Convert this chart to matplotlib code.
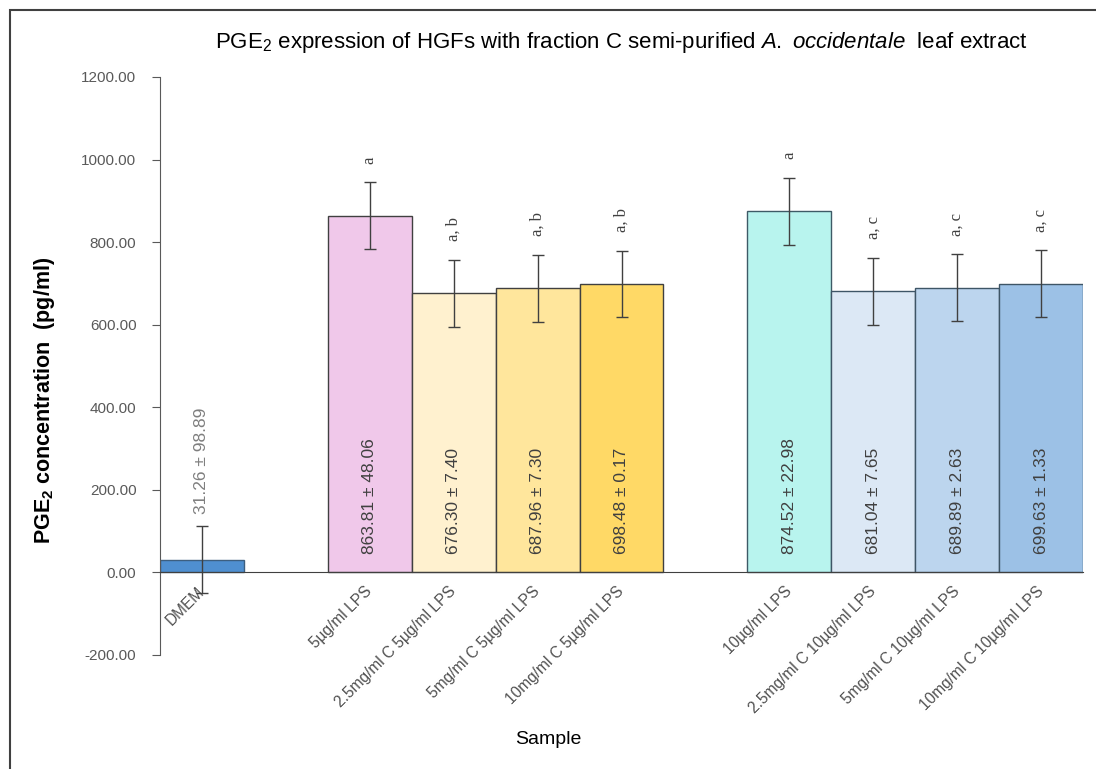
import numpy as np
import matplotlib
matplotlib.use("Agg")
import matplotlib.pyplot as plt
from matplotlib.patches import Rectangle

plt.rcParams["font.family"] = ["Liberation Sans", "DejaVu Sans"]
plt.rcParams["mathtext.fontset"] = "custom"
plt.rcParams["mathtext.rm"] = "Liberation Sans"
plt.rcParams["mathtext.it"] = "Liberation Sans:italic"
plt.rcParams["mathtext.bf"] = "Liberation Sans:bold"

# ---- data ----
samples = ["DMEM", "5µg/ml LPS", "2.5mg/ml C 5µg/ml LPS", "5mg/ml C 5µg/ml LPS",
           "10mg/ml C 5µg/ml LPS", "10µg/ml LPS", "2.5mg/ml C 10µg/ml LPS",
           "5mg/ml C 10µg/ml LPS", "10mg/ml C 10µg/ml LPS"]
slots = [0, 2, 3, 4, 5, 7, 8, 9, 10]
means = [31.26, 863.81, 676.30, 687.96, 698.48, 874.52, 681.04, 689.89, 699.63]
sds = [98.89, 48.06, 7.40, 7.30, 0.17, 22.98, 7.65, 2.63, 1.33]
err = [81, 81, 81, 81, 81, 81, 81, 81, 81]
letters = ["", "a", "a, b", "a, b", "a, b", "a", "a, c", "a, c", "a, c"]

colors = ["#4f8fd0", "#f0c8ea", "#fff1cf", "#ffe69c", "#ffd966",
          "#b8f4ee", "#dce8f5", "#bcd5ee", "#9cc1e6"]
edges = ["#3d5f80", "#404040", "#404040", "#404040", "#404040",
         "#3e5a66", "#3e5566", "#3e5566", "#3e5566"]

fig = plt.figure(figsize=(10.96, 7.69), dpi=100)
ax = fig.add_axes([160 / 1096, 1 - 655 / 769, (1083 - 160) / 1096, (655 - 77) / 769])

ax.spines["top"].set_visible(False)
ax.spines["right"].set_visible(False)
ax.spines["left"].set_color("#595959")
ax.spines["bottom"].set_color("#404040")
ax.spines["bottom"].set_position(("data", 0))

ax.bar(slots, means, width=1.0, color=colors, edgecolor=edges, linewidth=1.0, zorder=2)
ax.errorbar(slots, means, yerr=err, fmt="none", ecolor="#404040", elinewidth=1.0,
            capsize=4.5, capthick=1.0, zorder=3)

# value labels
for i, (x, m, s) in enumerate(zip(slots, means, sds)):
    txt = f"{m:.2f} ± {s:.2f}"
    if i == 0:
        ax.text(x, m + err[i] + 30, txt, rotation=90, ha="center", va="bottom",
                fontsize=12.5, color="#7f7f7f", zorder=4)
    else:
        ax.text(x, 45, txt, rotation=90, ha="center", va="bottom",
                fontsize=12.5, color="#404040", zorder=4)

# significance letters
for x, m, e, lab in zip(slots, means, err, letters):
    if lab:
        ax.text(x, m + e + 45, lab, rotation=90, ha="center", va="bottom",
                fontsize=12, color="#404040", family=["Liberation Serif", "DejaVu Serif"])

ax.set_xlim(-0.5, 10.5)
ax.set_ylim(-200, 1200)
ax.set_yticks(np.arange(-200, 1201, 200))
ax.set_yticklabels([f"{v:.2f}" for v in np.arange(-200, 1201, 200)], fontsize=11, color="#595959")
ax.tick_params(axis="y", direction="out", length=6, color="#595959", pad=11)

ax.set_xticks(slots)
ax.set_xticklabels(samples, fontsize=11.2, color="#505050")
ax.tick_params(axis="x", length=0, pad=12)
for lbl in ax.get_xticklabels():
    lbl.set_rotation(45)
    lbl.set_ha("right")
    lbl.set_va("center")
    lbl.set_rotation_mode("anchor")

ax.set_title(r"PGE$_2$ expression of HGFs with fraction C semi-purified $\it{A.\ occidentale}$  leaf extract",
             fontsize=16, pad=21)
fig.text(45 / 1096, 1 - 400 / 769, r"PGE$_\mathbf{2}$ concentration  (pg/ml)", rotation=90,
         ha="center", va="center", fontsize=15.5, fontweight="bold")
fig.text(548 / 1096, 1 - 740 / 769, "Sample", ha="center", va="center", fontsize=14)

fig.add_artist(Rectangle((10 / 1096, -0.1), 1.2, 1.1 - 10 / 769, transform=fig.transFigure,
                         fill=False, edgecolor="#404040", linewidth=1.5))

fig.savefig("out.png", dpi=100)
